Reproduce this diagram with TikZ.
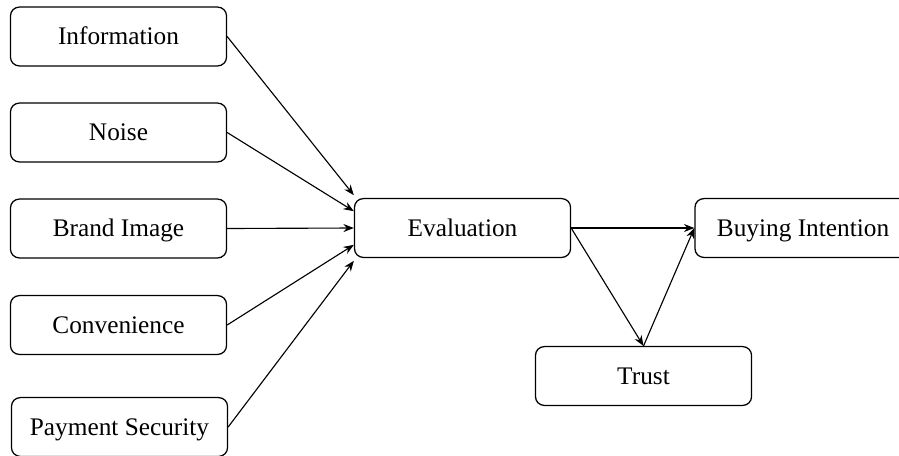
\documentclass[tikz,border=0pt]{standalone}
\usepackage{fontspec}
\setmainfont{Liberation Serif}
\usetikzlibrary{arrows.meta}
\begin{document}
\begin{tikzpicture}[x=0.025cm, y=-0.025cm, font=\fontsize{18}{20}\selectfont, line join=round, line cap=round, >={Stealth[length=2.6mm,width=2mm]},
  box/.style={draw, line width=0.9pt, rounded corners=2.2mm, minimum width=5.4cm, minimum height=1.47cm, inner sep=0pt, text height=12pt, text depth=0pt},
  link/.style={->, line width=0.8pt}]
  \useasboundingbox (0,0) rectangle (899,455);
  \clip (0,0) rectangle (899,455);
  % factors
  \node[box] (info) at (118.5,36.5) {Information};
  \node[box] (noise) at (118.5,132.5) {Noise};
  \node[box] (brand) at (118.5,228.5) {Brand Image};
  \node[box] (conv) at (118.5,325) {Convenience};
  \node[box] (pay) at (119.5,427) {Payment Security};
  % outcomes
  \node[box] (eval) at (462.5,228) {Evaluation};
  \node[box] (buy) at (803,228) {Buying Intention};
  \node[box] (trust) at (643.5,376) {Trust};
  \draw[link] (info.east) -- ([yshift=0.82cm]eval.west);
  \draw[link] (noise.east) -- ([yshift=0.42cm]eval.west);
  \draw[link] (brand.east) -- (eval.west);
  \draw[link] (conv.east) -- ([yshift=-0.42cm]eval.west);
  \draw[link] (pay.east) -- ([yshift=-0.82cm]eval.west);
  \draw[link] (eval.east) -- (buy.west);
  \draw[link] (eval.east) -- (trust.north);
  \draw[link] (trust.north) -- (buy.west);
\end{tikzpicture}
\end{document}
